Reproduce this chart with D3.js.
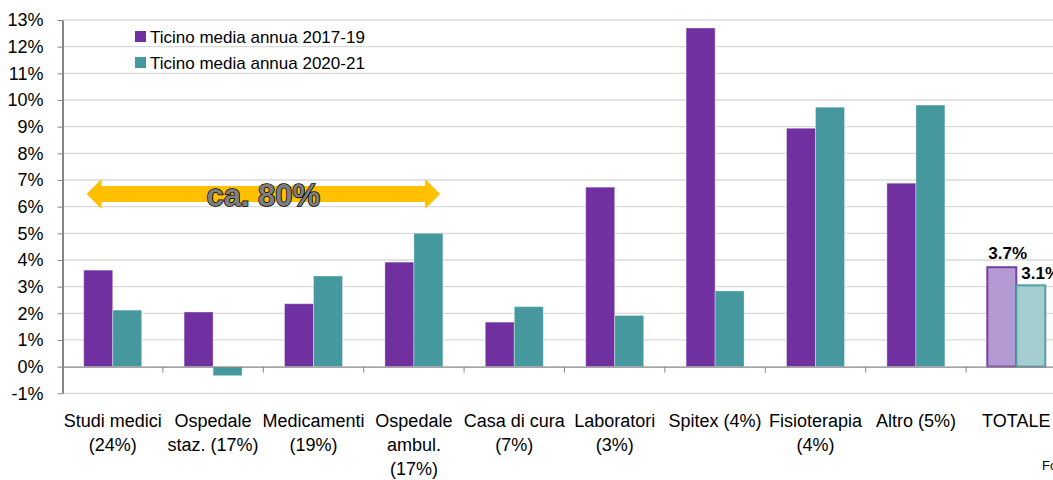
<!DOCTYPE html>
<html>
<head>
<meta charset="utf-8">
<script src="https://cdn.jsdelivr.net/npm/d3@7"></script>
<style>
  body { margin: 0; background: #fff; }
  svg { display: block; font-family: Arial, "Liberation Sans", sans-serif; }
</style>
</head>
<body>
<script>
// chart data
const CATEGORIES = [
  ['Studi medici', '(24%)'],
  ['Ospedale', 'staz. (17%)'],
  ['Medicamenti', '(19%)'],
  ['Ospedale', 'ambul.', '(17%)'],
  ['Casa di cura', '(7%)'],
  ['Laboratori', '(3%)'],
  ['Spitex (4%)'],
  ['Fisioterapia', '(4%)'],
  ['Altro (5%)'],
  ['TOTALE']
];
const SERIES_NAMES = ['Ticino media annua 2017-19', 'Ticino media annua 2020-21'];
const VALUES_1719 = [3.62, 2.05, 2.36, 3.92, 1.67, 6.73, 12.7, 8.94, 6.88, 3.73];
const VALUES_2021 = [2.12, -0.34, 3.40, 5.00, 2.25, 1.92, 2.84, 9.73, 9.81, 3.05];
const TOTAL_LABELS = ['3.7%', '3.1%'];
const Y_TICKS = d3.range(-1, 14);

const WIDTH = 1053;
const HEIGHT = 480;
const PLOT_LEFT = 62.5;
const BAND = 100.4;
const PLOT_TOP = 20;
const PLOT_BOT = 393.3;

const COLORS = ['#7030a0', '#46989f'];
const LIGHT = ['#b39ad2', '#a3cdd1'];

const svg = d3.select('body')
  .append('svg')
    .attr('width', WIDTH)
    .attr('height', HEIGHT);

// scales
const xScale = d3.scaleBand()
    .domain(d3.range(CATEGORIES.length))
    .range([PLOT_LEFT, PLOT_LEFT + BAND * CATEGORIES.length]);

const yScale = d3.scaleLinear()
    .domain([-1, 13])
    .range([PLOT_BOT, PLOT_TOP]);

const barW = 29;

// gridlines
svg.append('g')
  .selectAll('line')
  .data(Y_TICKS.filter(t => t !== 0))
  .enter()
  .append('line')
    .attr('x1', PLOT_LEFT)
    .attr('x2', WIDTH)
    .attr('y1', d => yScale(d))
    .attr('y2', d => yScale(d))
    .attr('stroke', '#d9d9d9')
    .attr('stroke-width', 1.3);

// y axis
const yAxis = d3.axisLeft(yScale)
    .tickValues(Y_TICKS)
    .tickSize(5)
    .tickPadding(14)
    .tickSizeOuter(0)
    .tickFormat(d => d + '%');

const yG = svg.append('g')
    .attr('transform', `translate(${PLOT_LEFT}, 0)`)
    .call(yAxis);
yG.select('.domain').attr('stroke', '#868686').attr('stroke-width', 2);
yG.selectAll('.tick line').attr('stroke', '#868686');
yG.selectAll('.tick text')
    .attr('font-size', 18)
    .attr('font-family', 'Arial, "Liberation Sans", sans-serif')
    .attr('fill', '#000');

// bars
const series = [VALUES_1719, VALUES_2021];
series.forEach((vals, s) => {
  svg.append('g')
    .selectAll('rect')
    .data(vals)
    .enter()
    .append('rect')
      .attr('x', (d, i) => xScale(i) + xScale.bandwidth() / 2 - barW + s * barW)
      .attr('y', d => yScale(Math.max(0, d)))
      .attr('width', barW)
      .attr('height', d => Math.abs(yScale(d) - yScale(0)))
      .attr('fill', (d, i) => i === vals.length - 1 ? LIGHT[s] : COLORS[s])
      .attr('stroke', (d, i) => i === vals.length - 1 ? COLORS[s] : '#ffffff')
      .attr('stroke-opacity', (d, i) => i === vals.length - 1 ? 0.9 : 0.35)
      .attr('stroke-width', (d, i) => i === vals.length - 1 ? 2 : 1);
});

// x axis at zero
const xAxis = d3.axisBottom(xScale)
    .tickSize(0)
    .tickFormat('');
const xG = svg.append('g')
    .attr('transform', `translate(0, ${yScale(0)})`)
    .call(xAxis);
xG.select('.domain').attr('stroke', '#868686').attr('stroke-width', 1.3);

// category separators
svg.append('g')
  .selectAll('line')
  .data(d3.range(1, CATEGORIES.length))
  .enter()
  .append('line')
    .attr('x1', d => xScale(d))
    .attr('x2', d => xScale(d))
    .attr('y1', yScale(0))
    .attr('y2', yScale(0) + 6)
    .attr('stroke', '#868686');

// category labels
const labels = svg.append('g')
  .selectAll('text')
  .data(CATEGORIES)
  .enter()
  .append('text')
    .attr('x', (d, i) => xScale(i) + xScale.bandwidth() / 2)
    .attr('y', 427)
    .attr('text-anchor', 'middle')
    .attr('font-size', 18)
    .attr('font-family', '"Liberation Sans Narrow", "Arial Narrow", Arial, sans-serif')
    .attr('fill', '#000');
labels.each(function(lines) {
  d3.select(this)
    .selectAll('tspan')
    .data(lines)
    .enter()
    .append('tspan')
      .attr('x', d3.select(this).attr('x'))
      .attr('dy', (d, j) => j === 0 ? 0 : 24)
      .text(d => d);
});

// total labels
const last = CATEGORIES.length - 1;
TOTAL_LABELS.forEach((t, s) => {
  svg.append('text')
      .attr('x', xScale(last) + xScale.bandwidth() / 2 - barW + s * barW + (s === 0 ? 1 : 5))
      .attr('y', yScale(series[s][last]) - (s === 0 ? 8 : 6))
      .attr('font-size', 17)
      .attr('font-weight', 'bold')
      .attr('font-family', '"Liberation Sans Narrow", "Arial Narrow", Arial, sans-serif')
      .attr('fill', '#000')
      .text(t);
});

// legend
const legend = svg.append('g')
  .selectAll('g')
  .data(SERIES_NAMES)
  .enter()
  .append('g')
    .attr('transform', (d, i) => `translate(135, ${31 + i * 26})`);
legend.append('rect')
    .attr('width', 11)
    .attr('height', 11)
    .attr('fill', (d, i) => COLORS[i]);
legend.append('text')
    .attr('x', 15)
    .attr('y', 12)
    .attr('font-size', 17)
    .attr('font-family', '"Liberation Sans Narrow", "Arial Narrow", Arial, sans-serif')
    .attr('fill', '#000')
    .text(d => d);

// arrow spanning the first four categories
const ax0 = xScale(0) + 24;
const ax1 = xScale(3) + xScale.bandwidth() - 24;
const ay = 194;
svg.append('path')
    .attr('d', `M${ax0},${ay} L${ax0 + 15},${ay - 15} L${ax0 + 15},${ay - 8} L${ax1 - 15},${ay - 8}
      L${ax1 - 15},${ay - 15} L${ax1},${ay} L${ax1 - 15},${ay + 15} L${ax1 - 15},${ay + 8}
      L${ax0 + 15},${ay + 8} L${ax0 + 15},${ay + 15} Z`)
    .attr('fill', '#ffc000');
svg.append('text')
    .attr('x', (ax0 + ax1) / 2)
    .attr('y', 206)
    .attr('text-anchor', 'middle')
    .attr('font-size', 31)
    .attr('font-weight', 'bold')
    .attr('font-family', 'Arial, "Liberation Sans", sans-serif')
    .attr('fill', '#7f7f7f')
    .attr('stroke', '#000')
    .attr('stroke-width', 1.5)
    .attr('paint-order', 'stroke')
    .text('ca. 80%');

// source note, cut off at the right edge
svg.append('text')
    .attr('x', 1042)
    .attr('y', 470)
    .attr('font-size', 13)
    .attr('fill', '#000')
    .text('Fonte: SASIS SA');
</script>
</body>
</html>
